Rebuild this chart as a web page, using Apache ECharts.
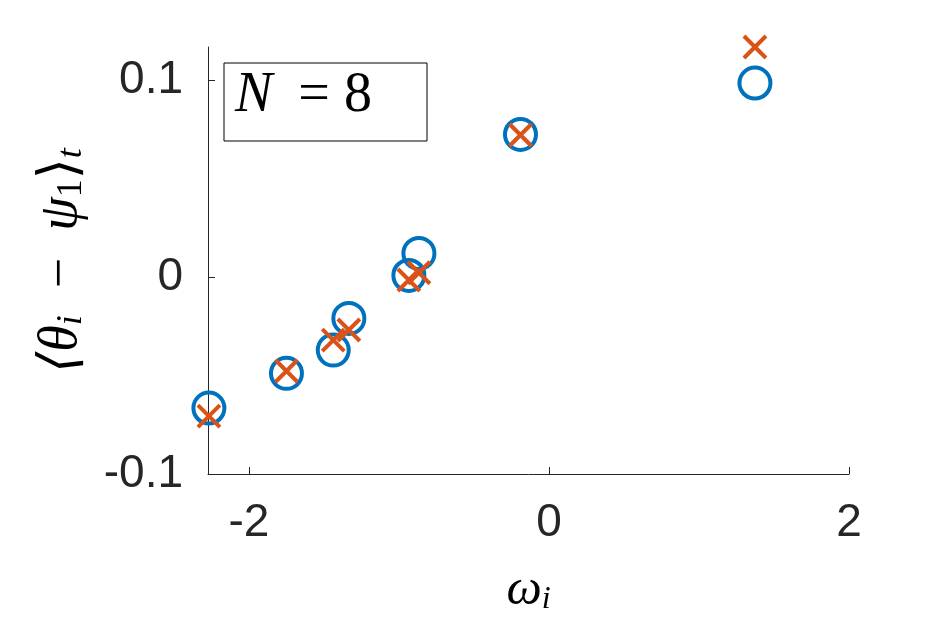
<!DOCTYPE html>
<html>
<head>
<meta charset="utf-8">
<script src="https://cdn.jsdelivr.net/npm/echarts@6/dist/echarts.min.js"></script>
<style>
html,body{margin:0;padding:0;background:#fff;}
#c{width:938px;height:625px;}
</style>
</head>
<body>
<div id="c"></div>
<script>
// omega_i values (shared by both series)
var omega = [-2.267, -1.750, -1.438, -1.334, -0.934, -0.867, -0.190, 1.373];
// blue circles
var circleVals = [-0.0665, -0.0489, -0.0371, -0.0210, 0.0008, 0.0120, 0.0724, 0.0985];
// orange crosses
var crossVals = [-0.0706, -0.0477, -0.0320, -0.0269, -0.0015, 0.0022, 0.0721, 0.1168];
var xTicks = [-2, 0, 2];
var yTicks = [-0.1, 0, 0.1];
var yTickLabels = ['-0.1', '0', '0.1'];

function pairs(xs, ys){ return xs.map(function(x,i){ return [x, ys[i]]; }); }

var chart = echarts.init(document.getElementById('c'), null, {renderer:'canvas'});
var axisColor = '#262626';
var labelFont = 'Liberation Sans, Arial, Helvetica, sans-serif';
var serif = 'Liberation Serif, DejaVu Serif, serif';

chart.setOption({
  animation: false,
  backgroundColor: '#fff',
  grid: {left: 208, right: 89, top: 47, bottom: 151, containLabel: false},
  xAxis: {
    type: 'value', min: -2.273, max: 2,
    axisLine: {show: true, onZero: false, lineStyle: {color: axisColor, width: 1}},
    axisTick: {show: true, inside: true, length: 7, customValues: xTicks, lineStyle: {color: axisColor}},
    axisLabel: {customValues: xTicks, margin: 26, color: axisColor, fontSize: 46, fontFamily: labelFont,
      formatter: function(v){ return String(v); }},
    splitLine: {show: false},
    name: '{w|ω}{s|i}', nameLocation: 'middle', nameGap: 92,
    nameTextStyle: {rich: {
      w: {fontFamily: serif, fontStyle: 'italic', fontSize: 50, color: '#000'},
      s: {fontFamily: serif, fontStyle: 'italic', fontSize: 32, color: '#000', padding:[18,0,0,0]}
    }}
  },
  yAxis: {
    type: 'value', min: -0.1, max: 0.1168,
    axisLine: {show: true, onZero: false, lineStyle: {color: axisColor, width: 1}},
    axisTick: {show: true, inside: true, length: 7, customValues: yTicks, lineStyle: {color: axisColor}},
    axisLabel: {customValues: yTicks, margin: 25, color: axisColor, fontSize: 46, fontFamily: labelFont,
      formatter: function(v){ var i = yTicks.indexOf(v); return i >= 0 ? yTickLabels[i] : ''; }},
    splitLine: {show: false},
    name: '{m|⟨θ}{s|i}{u|  −  }{m|ψ}{d|1}{u|⟩}{s|t}', nameLocation: 'middle', nameGap: 118, nameRotate: 90,
    nameTextStyle: {rich: {
      m: {fontFamily: serif, fontStyle: 'italic', fontSize: 54, color: '#000'},
      u: {fontFamily: serif, fontSize: 54, color: '#000'},
      s: {fontFamily: serif, fontStyle: 'italic', fontSize: 36, color: '#000', padding:[20,0,0,0]},
      d: {fontFamily: serif, fontSize: 36, color: '#000', padding:[20,0,0,0]}
    }}
  },
  graphic: [
    {type: 'rect', shape: {x: 224, y: 63, width: 203, height: 78},
     style: {fill: '#fff', stroke: '#000', lineWidth: 1}, z: 10},
    {type: 'text', left: 235, top: 68, z: 11,
     style: {text: '{n|N}{q|=}{e| 8}', rich: {
       n: {fontFamily: serif, fontStyle: 'italic', fontSize: 56, fill: '#000'},
       q: {fontFamily: serif, fontSize: 56, fill: '#000', padding: [0, 0, 0, 26]},
       e: {fontFamily: serif, fontSize: 56, fill: '#000'}
     }}}
  ],
  series: [
    {type: 'scatter', data: pairs(omega, circleVals), symbol: 'circle', symbolSize: 31, clip: false,
     itemStyle: {color: 'rgba(0,0,0,0)', borderColor: '#0072BD', borderWidth: 4, opacity: 1}, z: 2},
    {type: 'scatter', data: pairs(omega, crossVals), symbol: 'path://M0,0L10,10M10,0L0,10', symbolSize: 22, clip: false,
     itemStyle: {color: 'rgba(0,0,0,0)', borderColor: '#D95319', borderWidth: 4, opacity: 1}, z: 3}
  ]
});
</script>
</body>
</html>
